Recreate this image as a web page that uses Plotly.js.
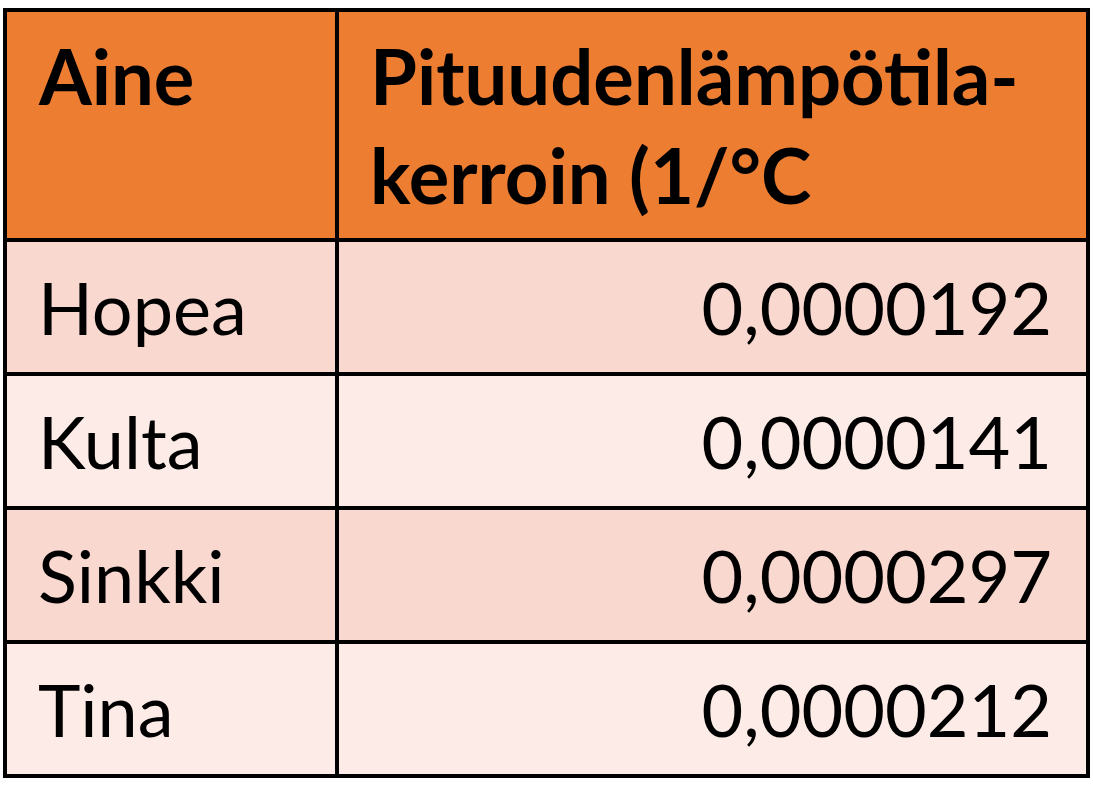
<!DOCTYPE html>
<html>
<head>
<meta charset="utf-8">
<script src="https://cdn.plot.ly/plotly-3.0.1.min.js"></script>
<style>html,body{margin:0;padding:0;background:#fff;}#chart{width:1093px;height:807px;}</style>
</head>
<body>
<div id="chart"></div>
<script>
const headers = ['Aine', 'Pituudenlämpötila-<br>kerroin (1/°C'];
const aineet = ['Hopea', 'Kulta', 'Sinkki', 'Tina'];
const kertoimet = [0.0000192, 0.0000141, 0.0000297, 0.0000212];

const fmt = v => v.toFixed(7).replace('.', ',');
const rowFill = aineet.map((_, i) => i % 2 === 0 ? '#F8D8CF' : '#FCEBE6');

const trace = {
  type: 'table',
  columnwidth: [332, 751],
  domain: {x: [0, 1], y: [0, 1]},
  header: {
    values: headers.map(h => '<b>' + h + '</b>'),
    align: ['left', 'left'],
    height: 230,
    fill: {color: '#ED7D31'},
    line: {color: '#000', width: 3.5},
    font: {family: 'Lato, "Open Sans", sans-serif', size: 76, color: '#000'}
  },
  cells: {
    values: [aineet, kertoimet.map(fmt)],
    align: ['left', 'right'],
    height: 134,
    fill: {color: [rowFill, rowFill]},
    line: {color: '#000', width: 3.5},
    font: {family: 'Lato, "Open Sans", sans-serif', size: 72, color: '#000'}
  }
};

const layout = {
  width: 1093, height: 807,
  margin: {l: 5, r: 5, t: 10, b: 20},
  paper_bgcolor: '#fff'
};

// Cell padding and vertical placement (the table trace only offers top alignment)
function placeCellText() {
  const items = [];
  document.querySelectorAll('#chart .column-cell').forEach(cell => {
    const rect = cell.querySelector('.cell-rect');
    const holder = cell.querySelector('.cell-text-holder');
    if (!rect || !holder) return;
    const text = holder.querySelector('text');
    if (!text) return;
    const rb = rect.getBoundingClientRect();
    const tb = text.getBoundingClientRect();
    if (!rb.height || !tb.height) return;
    items.push({holder, rb, tb, header: rb.height > 180});
  });
  // header texts share a common top, set by the tallest (two-line) header text
  const hdr = items.filter(d => d.header);
  let hdrTop = null;
  if (hdr.length) {
    const tallest = hdr.reduce((a, b) => (b.tb.height > a.tb.height ? b : a));
    hdrTop = tallest.rb.top + tallest.rb.height / 2 - tallest.tb.height / 2;
  }
  items.forEach(({holder, rb, tb, header}) => {
    const m = holder.transform.baseVal.consolidate();
    const x0 = m ? m.matrix.e : 0, y0 = m ? m.matrix.f : 0;
    const dy = header ? hdrTop - tb.top : (rb.top + rb.height / 2) - (tb.top + tb.height / 2);
    const leftGap = tb.left - rb.left, rightGap = rb.right - tb.right;
    const dx = leftGap <= rightGap ? (rb.left + 33) - tb.left : (rb.right - 36) - tb.right;
    holder.setAttribute('transform', 'translate(' + (x0 + dx) + ',' + (y0 + dy) + ')');
  });
}

Plotly.newPlot('chart', [trace], layout, {displayModeBar: false, staticPlot: true})
  .then(() => { placeCellText(); });
</script>
</body>
</html>
